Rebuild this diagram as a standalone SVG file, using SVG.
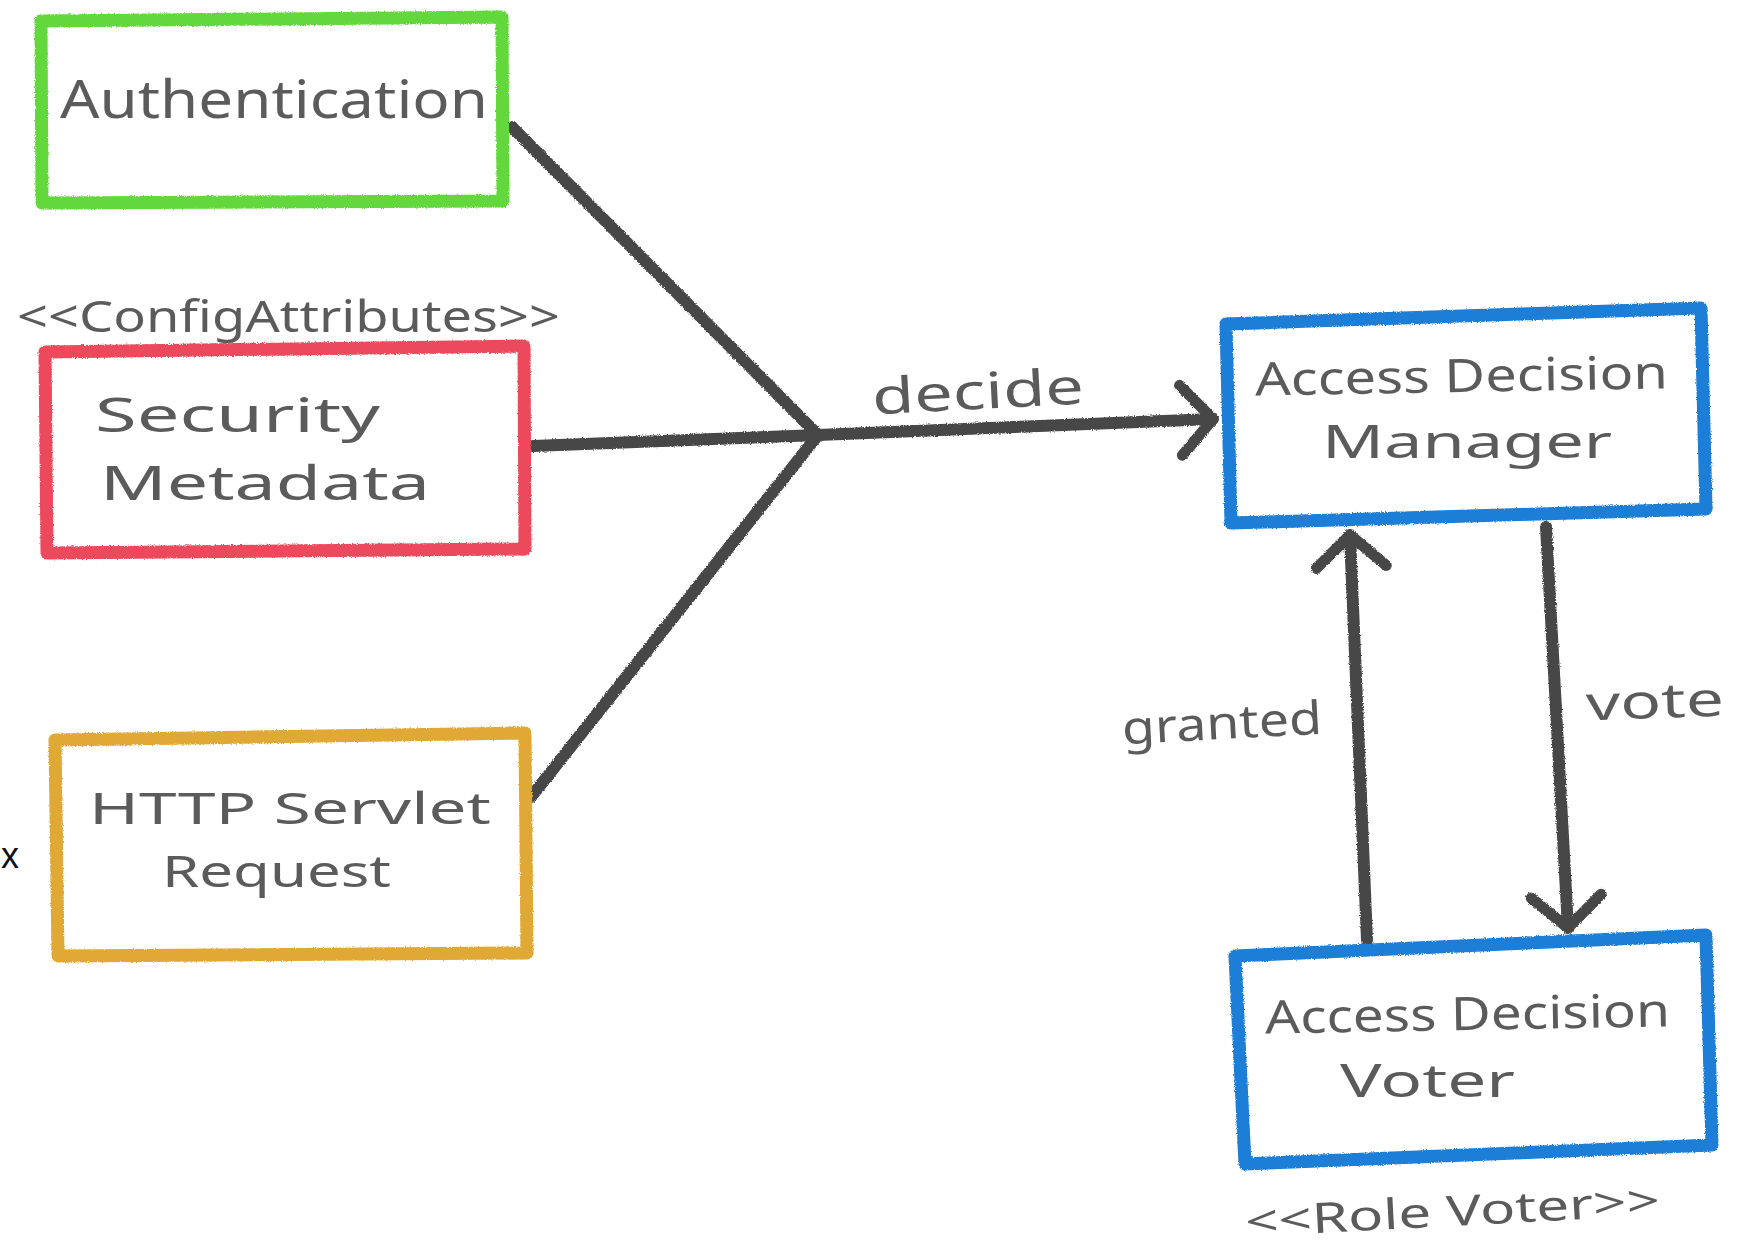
<svg xmlns="http://www.w3.org/2000/svg" width="1750" height="1249" viewBox="0 0 1750 1249">
  <style>
    .box { fill: #ffffff; stroke-width: 13; stroke-linejoin: round; filter: url(#crayon); }
    .green { stroke: #62d83c; }
    .red { stroke: #ec4a5c; }
    .orange { stroke: #e0a835; }
    .blue { stroke: #1a7ed6; }
    .lbl { font-family: "Noto Sans", "DejaVu Sans", sans-serif; fill: #5b5b5b; }
    .conn { fill: none; stroke: #474747; stroke-width: 12; stroke-linecap: round; filter: url(#crayon); }
  </style>
  <defs>
    <filter id="crayon" filterUnits="userSpaceOnUse" x="0" y="0" width="1750" height="1249">
      <feTurbulence type="fractalNoise" baseFrequency="0.9" numOctaves="2" seed="3" result="n"/>
      <feDisplacementMap in="SourceGraphic" in2="n" scale="3" xChannelSelector="R" yChannelSelector="G"/>
    </filter>
    <marker id="arr" viewBox="-45 -45 55 90" refX="0" refY="0" markerWidth="55" markerHeight="90" markerUnits="userSpaceOnUse" orient="auto" overflow="visible">
      <path d="M-32,-35 L0,0 L-32,35" fill="none" stroke="#474747" stroke-width="11" stroke-linecap="round" stroke-linejoin="round"/>
    </marker>
  </defs>
  <rect width="1750" height="1249" fill="#ffffff"/>

  <text x="1" y="868" font-family="Liberation Sans, sans-serif" font-size="36" fill="#111">x</text>

  <g id="connectors">
    <path class="conn" d="M512,127 L818,435"/>
    <path class="conn" d="M533,446 L818,435"/>
    <path class="conn" d="M531,797 L818,435"/>
    <path class="conn" d="M818,435 L1213,419" marker-end="url(#arr)"/>
    <path class="conn" d="M1367,940 L1350,535" marker-end="url(#arr)"/>
    <path class="conn" d="M1546,527 L1568,928" marker-end="url(#arr)"/>
    <text class="lbl" x="872" y="409" font-size="50" textLength="212" lengthAdjust="spacingAndGlyphs" transform="rotate(-3 978 395)">decide</text>
    <text class="lbl" x="1122" y="739" font-size="46" textLength="200" lengthAdjust="spacingAndGlyphs" transform="rotate(-3 1222 725)">granted</text>
    <text class="lbl" x="1586" y="718" font-size="48" textLength="138" lengthAdjust="spacingAndGlyphs" transform="rotate(-2 1655 705)">vote</text>
  </g>

  <g id="authentication">
    <polygon class="box green" points="41,21 502,17 503,201 42,203"/>
    <text class="lbl" x="60" y="118" font-size="52" textLength="428" lengthAdjust="spacingAndGlyphs">Authentication</text>
  </g>

  <g id="security-metadata">
    <text class="lbl" x="17" y="332" font-size="44" textLength="543" lengthAdjust="spacingAndGlyphs">&lt;&lt;ConfigAttributes&gt;&gt;</text>
    <polygon class="box red" points="45,352 524,346 525,549 47,553"/>
    <text class="lbl" x="95" y="432" font-size="48" textLength="285" lengthAdjust="spacingAndGlyphs">Security</text>
    <text class="lbl" x="100" y="500" font-size="48" textLength="330" lengthAdjust="spacingAndGlyphs">Metadata</text>
  </g>

  <g id="http-servlet-request">
    <polygon class="box orange" points="55,740 525,733 527,953 58,956"/>
    <text class="lbl" x="89" y="824" font-size="44" textLength="402" lengthAdjust="spacingAndGlyphs">HTTP Servlet</text>
    <text class="lbl" x="162" y="887" font-size="44" textLength="229" lengthAdjust="spacingAndGlyphs">Request</text>
  </g>

  <g id="access-decision-manager">
    <polygon class="box blue" points="1226,324 1701,308 1706,509 1231,523"/>
    <text class="lbl" x="1255" y="392" font-size="46" textLength="413" lengthAdjust="spacingAndGlyphs" transform="rotate(-1 1460 380)">Access Decision</text>
    <text class="lbl" x="1322" y="458" font-size="46" textLength="290" lengthAdjust="spacingAndGlyphs">Manager</text>
  </g>

  <g id="access-decision-voter">
    <polygon class="box blue" points="1235,956 1706,935 1712,1145 1245,1164"/>
    <text class="lbl" x="1265" y="1030" font-size="46" textLength="405" lengthAdjust="spacingAndGlyphs" transform="rotate(-1 1465 1015)">Access Decision</text>
    <text class="lbl" x="1340" y="1097" font-size="46" textLength="175" lengthAdjust="spacingAndGlyphs">Voter</text>
    <text class="lbl" x="1245" y="1226" font-size="42" textLength="415" lengthAdjust="spacingAndGlyphs" transform="rotate(-3 1450 1212)">&lt;&lt;Role Voter&gt;&gt;</text>
  </g>
</svg>
